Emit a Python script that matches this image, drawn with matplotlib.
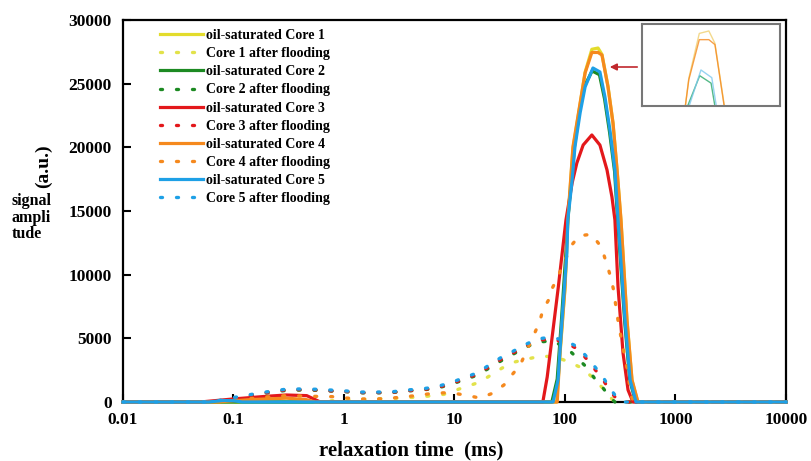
import numpy as np
import matplotlib
matplotlib.use("Agg")
import matplotlib.pyplot as plt
from matplotlib.ticker import FixedLocator, NullLocator

plt.rcParams["font.family"] = ["Liberation Serif", "DejaVu Serif"]
plt.rcParams["font.weight"] = "bold"

# oil-saturated spectra (T2 in ms, amplitude in a.u.)
t_c1 = [0.01, 84, 90, 100, 106, 118, 137, 152, 175, 199, 216, 245, 272, 296, 321, 364, 404, 455, 10000]
a_c1 = [0, 0, 3700, 8900, 14100, 19900, 23400, 25900, 27700, 27800, 27300, 24800, 21900, 18200, 14300, 6400, 1700, 0, 0]

t_c2 = [0.01, 76, 85, 93, 102, 106, 115, 122, 135, 150, 176, 205, 228, 253, 281, 300, 347, 386, 436, 10000]
a_c2 = [0, 0, 1800, 6500, 11800, 14400, 17600, 20100, 22800, 24800, 26000, 25700, 23800, 21200, 18100, 14200, 6300, 1700, 0, 0]

t_c3 = [0.01, 0.05, 0.1, 0.2, 0.3, 0.46, 0.61, 63, 69, 87, 102, 116, 128, 146, 175, 207, 240, 266, 283, 302, 335, 372, 412, 10000]
a_c3 = [0, 0, 240, 450, 550, 500, 0, 0, 1960, 9030, 14290, 17200, 18770, 20180, 20970, 20180, 18220, 16100, 14290, 9030, 3850, 940, 0, 0]

t_c4 = [0.01, 0.07, 0.15, 0.3, 0.45, 0.55, 85, 90, 100, 106, 118, 137, 152, 175, 199, 216, 245, 272, 296, 321, 364, 404, 458, 10000]
a_c4 = [0, 0, 200, 300, 200, 0, 0, 3850, 9030, 14290, 20030, 23480, 25840, 27450, 27450, 27250, 24740, 21900, 18220, 14290, 6440, 1730, 0, 0]

t_c5 = [0.01, 0.06, 0.08, 0.1, 0.12, 78, 86.5, 94, 104, 106, 116, 123, 137, 152, 179, 207, 230, 255, 283, 302, 349, 388, 439, 10000]
a_c5 = [0, 0, 120, 100, 0, 0, 1730, 6440, 11700, 14290, 17430, 20030, 22700, 24740, 26230, 25920, 23950, 21360, 18220, 14290, 6440, 1730, 0, 0]

# after flooding spectra
t_f5 = [0.01, 0.065, 0.091, 0.122, 0.167, 0.228, 0.305, 0.417, 0.57, 0.76, 1.06, 1.46, 1.99, 2.72, 3.64, 4.98,
        6.66, 9.1, 11.9, 16, 20, 26, 33, 43, 56, 76, 102, 131, 158, 187, 221, 250, 283, 328, 10000]
a_f5 = [0, 0, 300, 470, 700, 860, 1020, 1020, 1000, 940, 860, 780, 780, 800, 940, 1020,
        1180, 1490, 1880, 2280, 2830, 3460, 3930, 4480, 4950, 5100, 4790, 4320, 3530, 2750, 1960, 1180, 550, 0, 0]
a_f3 = [0, 0, 250, 420, 650, 820, 960, 980, 950, 880, 820, 740, 740, 760, 880, 960,
        1100, 1400, 1780, 2170, 2700, 3320, 3800, 4350, 4850, 4950, 4650, 4150, 3350, 2550, 1750, 1000, 400, 0, 0]
a_f2 = [0, 0, 200, 400, 620, 780, 920, 940, 920, 860, 800, 720, 720, 740, 860, 940,
        1060, 1350, 1720, 2100, 2600, 3200, 3700, 4250, 4700, 4800, 4300, 3400, 2700, 1800, 1100, 450, 0, 0, 0]

t_f1 = [0.01, 0.5, 1, 2, 3, 5, 8, 11.7, 16, 20, 27, 35, 45, 61, 83, 109, 142, 176, 207, 240, 280, 10000]
a_f1 = [0, 0, 150, 250, 300, 400, 600, 1100, 1490, 1960, 2670, 3140, 3370, 3610, 3530, 3140, 2670, 1960, 1330, 700, 0, 0]

t_f4 = [0.01, 0.07, 0.12, 0.2, 0.3, 0.5, 0.78, 1.06, 1.46, 1.99, 2.72, 3.7, 4.9, 6.66, 9.1, 12.4, 17, 22, 28, 33, 39,
        48, 59, 63, 71, 76, 85, 115, 135, 174, 203, 225, 243, 261, 274, 283, 293, 303, 331, 362, 388, 400, 420, 10000]
a_f4 = [0, 0, 200, 400, 500, 450, 420, 310, 235, 235, 310, 420, 550, 700, 730, 550, 310, 680, 1335, 2120, 2850,
        4550, 6300, 7225, 8010, 8870, 9710, 12330, 13060, 13170, 12410, 11540, 10630, 9710, 8870, 8010, 7225, 6300,
        4480, 2770, 1100, 420, 0, 0]

c_yellow = "#e3dc2c"
c_green = "#1c8a22"
c_red = "#e3181b"
c_orange = "#f5891e"
c_blue = "#1ea0e6"

W, H = 812, 461
fig = plt.figure(figsize=(W / 100, H / 100), dpi=100)
ax = fig.add_axes([123 / W, 1 - 402 / H, (786 - 123) / W, (402 - 20) / H])

solid = dict(lw=2.3, clip_on=False, zorder=3)
dot = dict(lw=2.4, ls=(0, (0.6, 4.2)), dash_capstyle="round", clip_on=False, zorder=3)

ax.plot(t_c1, a_c1, color=c_yellow, label="oil-saturated Core 1", **solid)
ax.plot(t_f1, a_f1, color="#e2e24a", label="Core 1 after flooding", **dot)
ax.plot(t_c2, a_c2, color=c_green, label="oil-saturated Core 2", **solid)
ax.plot(t_f5, a_f2, color=c_green, label="Core 2 after flooding", **dot)
ax.plot(t_c3, a_c3, color=c_red, label="oil-saturated Core 3", **solid)
ax.plot(t_f5, a_f3, color=c_red, label="Core 3 after flooding", **dot)
ax.plot(t_c4, a_c4, color=c_orange, label="oil-saturated Core 4", **solid)
ax.plot(t_f4, a_f4, color=c_orange, label="Core 4 after flooding", **dot)
ax.plot(t_c5, a_c5, color=c_blue, label="oil-saturated Core 5", **solid)
ax.plot(t_f5, a_f5, color=c_blue, label="Core 5 after flooding", **dot)

ax.set_xscale("log")
ax.set_xlim(0.01, 10000)
ax.set_ylim(0, 30000)
xt = [0.01, 0.1, 1, 10, 100, 1000, 10000]
ax.xaxis.set_major_locator(FixedLocator(xt))
ax.xaxis.set_minor_locator(NullLocator())
ax.set_xticklabels(["0.01", "0.1", "1", "10", "100", "1000", "10000"])
ax.set_yticks(range(0, 30001, 5000))
ax.tick_params(axis="both", direction="in", length=6, width=1.5, labelsize=12.5)
ax.tick_params(axis="x", pad=7)
ax.tick_params(axis="y", pad=8)
for s in ax.spines.values():
    s.set_linewidth(1.6)

leg = ax.legend(loc="upper left", bbox_to_anchor=(0.042, 1.0), frameon=False,
                fontsize=10, handlelength=3.1, handletextpad=0.2, labelspacing=0.37,
                borderaxespad=0.25)

fig.text(43 / W, 1 - 166 / H, "(a.u.)", rotation=90, ha="center", va="center", fontsize=14)
fig.text(12 / W, 1 - 193 / H, "signal\nampli\ntude", ha="left", va="top", fontsize=11.5, linespacing=1.05)
fig.text(411 / W, 1 - 450 / H, "relaxation time  (ms)", ha="center", va="center", fontsize=15)

# zoomed inset of the peaks
ins = fig.add_axes([642 / W, 1 - 106 / H, 138 / W, 82 / H])
for t, a, c in [(t_c1, a_c1, "#f0d070"), (t_c4, a_c4, c_orange), (t_c2, a_c2, "#2aa86a"), (t_c5, a_c5, "#7cc8ee")]:
    ins.plot(t, a, color=c, lw=1.0, alpha=0.8)
ins.set_xscale("log")
ins.set_xlim(81, 518)
ins.set_ylim(24780, 28080)
ins.set_xticks([])
ins.set_yticks([])
ins.minorticks_off()
for s in ins.spines.values():
    s.set_color("#777777")
    s.set_linewidth(1.5)

ax.annotate("", xy=(607, H - 67), xytext=(640, H - 67), xycoords="figure pixels",
            textcoords="figure pixels",
            arrowprops=dict(arrowstyle="-|>", color="#c0282d", lw=1.2, mutation_scale=10))

fig.savefig("out.png", dpi=100)
